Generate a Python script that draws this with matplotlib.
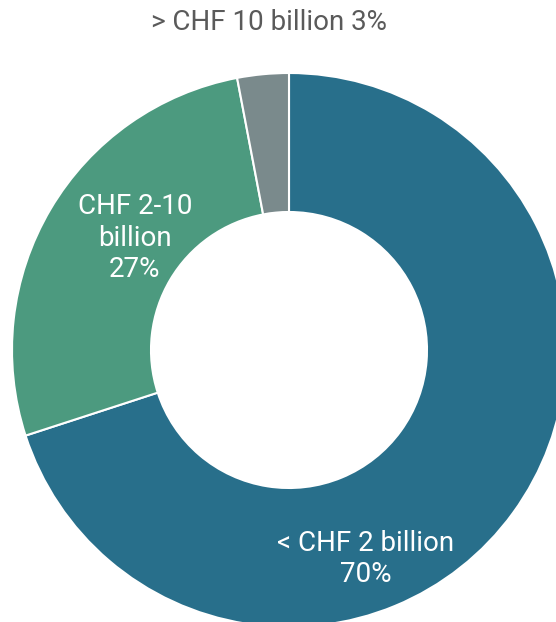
import matplotlib.pyplot as plt

# Dados
categorias = ['< CHF 2 billion', 'CHF 2-10\nbillion', '> CHF 10 billion']
percentuais = [70, 27, 3]
cores = ['#286f8b', '#4c9a7f', '#7a8a8c']

plt.rcParams['font.family'] = ['Roboto', 'DejaVu Sans']

fig = plt.figure(figsize=(5.56, 6.22), dpi=100)
ax = fig.add_axes([0, 0, 1, 1])

ax.pie(percentuais, colors=cores, startangle=90, counterclock=False,
       center=(289, 272), radius=277,
       wedgeprops=dict(width=139, edgecolor='white', linewidth=1.5))

ax.set_xlim(0, 556)
ax.set_ylim(0, 622)
ax.set_aspect('equal')
ax.axis('off')

# Rótulos
ax.text(366, 63, f'{categorias[0]}\n{percentuais[0]}%', ha='center', va='center',
        color='white', fontsize=20, linespacing=1.2)
ax.text(135, 384, f'{categorias[1]}\n{percentuais[1]}%', ha='center', va='center',
        color='white', fontsize=20, linespacing=1.2)
ax.text(269, 600, f'{categorias[2]} {percentuais[2]}%', ha='center', va='center',
        color='#5a5a5a', fontsize=20)

fig.savefig('out.png', dpi=100)
